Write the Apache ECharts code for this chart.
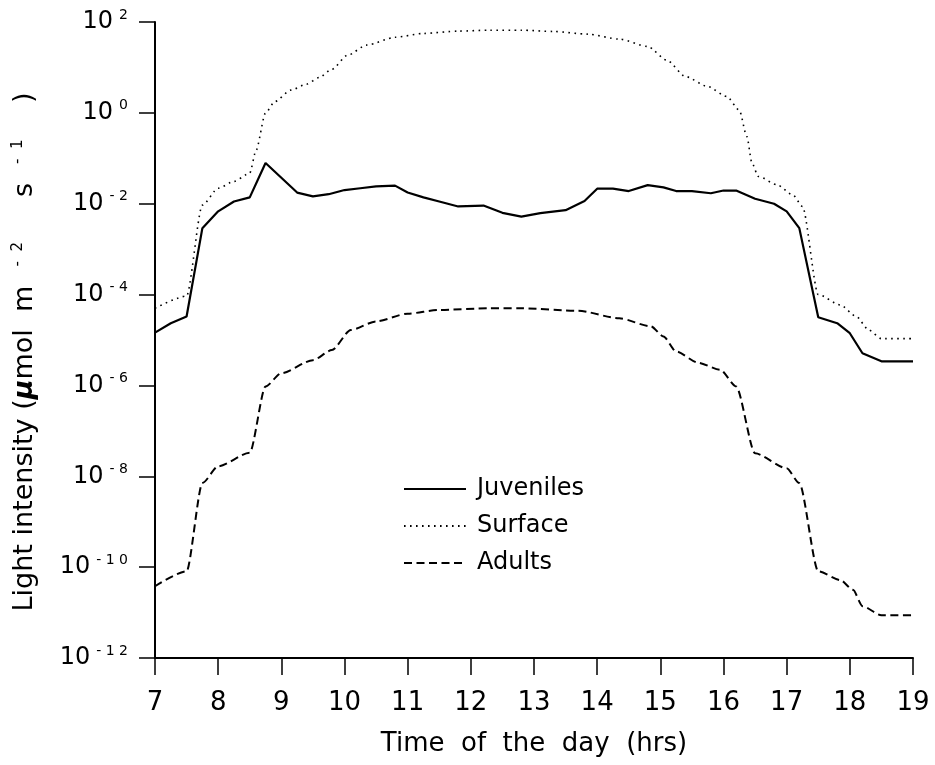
<!DOCTYPE html>
<html>
<head>
<meta charset="utf-8">
<script src="https://cdn.jsdelivr.net/npm/echarts@6/dist/echarts.min.js"></script>
<style>
  html, body { margin: 0; padding: 0; background: #fff; }
  #chart { width: 935px; height: 765px; }
</style>
</head>
<body>
<div id="chart"></div>
<script>
// Light intensity over the day at three positions (log scale)
const FONT = '"DejaVu Sans", "Liberation Sans", sans-serif';

const hourTicks = [7, 8, 9, 10, 11, 12, 13, 14, 15, 16, 17, 18, 19];
const seriesNames = ['Juveniles', 'Surface', 'Adults'];

const juvenilesHour = [7.0, 7.25, 7.5, 7.75, 8.0, 8.25, 8.5, 8.75, 9.25, 9.5, 9.75, 10.0, 10.25, 10.5, 10.8,
  11.0, 11.25, 11.5, 11.8, 12.2, 12.5, 12.8, 13.1, 13.5, 13.8, 14.0, 14.25, 14.5, 14.8,
  15.05, 15.25, 15.5, 15.8, 16.0, 16.2, 16.5, 16.8, 17.0, 17.2, 17.5, 17.8, 18.0, 18.2, 18.5, 19.0];
const juvenilesLight = [1.45e-5, 2.34e-5, 3.3e-5, 2.9e-3, 6.8e-3, 1.12e-2, 1.38e-2, 7.9e-2, 1.76e-2, 1.45e-2, 1.62e-2, 2.0e-2, 2.19e-2, 2.4e-2, 2.5e-2,
  1.76e-2, 1.38e-2, 1.12e-2, 8.7e-3, 9.1e-3, 6.3e-3, 5.2e-3, 6.2e-3, 7.2e-3, 1.15e-2, 2.14e-2, 2.14e-2, 1.9e-2, 2.57e-2,
  2.29e-2, 1.9e-2, 1.9e-2, 1.7e-2, 1.95e-2, 1.95e-2, 1.29e-2, 1.0e-2, 6.8e-3, 2.9e-3, 3.16e-5, 2.34e-5, 1.41e-5, 5.1e-6, 3.4e-6, 3.4e-6];

const surfaceHour = [7.0, 7.5, 7.75, 8.0, 8.25, 8.5, 8.6, 8.75, 8.9, 9.15, 9.4, 9.6, 9.8, 10.05, 10.35, 10.8,
  11.25, 11.8, 12.3, 12.8, 13.3, 13.85, 14.35, 14.8, 15.1, 15.4, 15.75, 16.05, 16.25, 16.37, 16.45, 16.55,
  16.85, 17.1, 17.25, 17.5, 17.85, 18.1, 18.3, 18.5, 19.0];
const surfaceLight = [5.0e-5, 9.3e-5, 9.3e-3, 2.19e-2, 3.1e-2, 4.7e-2, 0.15, 1.0, 1.78, 3.16, 4.3, 6.0, 9.1, 18.6, 31, 46,
  56, 63, 66, 66, 62, 54, 42, 29, 14.5, 6.3, 3.8, 2.3, 1.15, 0.30, 0.079, 0.040,
  0.026, 0.0155, 8.7e-3, 1.0e-4, 5.9e-5, 3.3e-5, 1.66e-5, 1.07e-5, 1.07e-5];

const adultsHour = [7.0, 7.5, 7.75, 8.0, 8.5, 8.75, 9.0, 9.5, 9.8, 10.1, 10.5, 11.0, 11.5, 12.3, 12.8, 13.7,
  14.35, 14.85, 15.05, 15.25, 15.6, 15.95, 16.2, 16.5, 17.0, 17.2, 17.5, 17.85, 18.05, 18.2, 18.5, 19.0];
const adultsLight = [3.8e-11, 8.1e-11, 7.1e-9, 1.66e-8, 3.3e-8, 9.5e-7, 1.86e-6, 3.6e-6, 6.0e-6, 1.66e-5, 2.57e-5, 3.8e-5, 4.6e-5, 5.0e-5, 5.0e-5, 4.4e-5,
  3.0e-5, 2.0e-5, 1.2e-5, 5.6e-6, 3.16e-6, 2.2e-6, 9.5e-7, 3.2e-8, 1.5e-8, 7.1e-9, 8.1e-11, 5.2e-11, 3.16e-11, 1.38e-11, 8.7e-12, 8.7e-12];

const pairs = (xs, ys) => xs.map((x, i) => [x, ys[i]]);

// "10" with a raised exponent, e.g. 10^-4
function powerLabel(v) {
  const e = Math.round(Math.log10(v));
  const exp = e < 0 ? '- ' + String(-e).split('').join(' ') : String(e);
  return '{b|10}{s|' + exp + '}';
}

const chart = echarts.init(document.getElementById('chart'), null, { renderer: 'canvas' });

chart.setOption({
  animation: false,
  backgroundColor: '#ffffff',
  grid: { left: 155, right: 22, top: 22, bottom: 107, containLabel: false },
  legend: {
    orient: 'vertical',
    left: 398,
    top: 472,
    itemWidth: 62,
    itemHeight: 20,
    itemGap: 13,
    data: seriesNames,
    itemStyle: { opacity: 0 },
    textStyle: { fontFamily: FONT, fontSize: 24, color: '#000', padding: [0, 0, 0, 6] }
  },
  xAxis: {
    type: 'value',
    min: hourTicks[0],
    max: hourTicks[hourTicks.length - 1],
    interval: 1,
    name: 'Time  of  the  day  (hrs)',
    nameLocation: 'middle',
    nameGap: 73,
    nameTextStyle: { fontFamily: FONT, fontSize: 26, color: '#000' },
    axisLine: { lineStyle: { color: '#000', width: 2 } },
    axisTick: { length: 17, lineStyle: { color: '#000', width: 1.5 } },
    axisLabel: { fontFamily: FONT, fontSize: 26, color: '#000', margin: 32 },
    splitLine: { show: false }
  },
  yAxis: {
    type: 'log',
    logBase: 10,
    min: 1e-12,
    max: 1e2,
    interval: 2,
    name: 'Light intensity ({mu|μ}mol  m  {sup|-  2}     s  {sup|-  1}    )',
    nameLocation: 'middle',
    nameGap: 117,
    nameTextStyle: {
      fontFamily: FONT, fontSize: 27, color: '#000', padding: [0, 24, 0, 0],
      rich: {
        mu: { fontFamily: FONT, fontSize: 27, fontStyle: 'italic', fontWeight: 'bold', color: '#000' },
        sup: { fontFamily: FONT, fontSize: 15, verticalAlign: 'top', color: '#000', padding: [0, 2, 0, 2] }
      }
    },
    axisLine: { show: true, lineStyle: { color: '#000', width: 2 } },
    axisTick: { show: true, length: 16, lineStyle: { color: '#000', width: 1.5 } },
    minorTick: { show: false },
    axisLabel: {
      margin: 27,
      formatter: powerLabel,
      rich: {
        b: { fontFamily: FONT, fontSize: 24, color: '#000', lineHeight: 28 },
        s: { fontFamily: FONT, fontSize: 14, color: '#000', verticalAlign: 'top', lineHeight: 14, padding: [0, 0, 0, 6] }
      }
    },
    splitLine: { show: false }
  },
  series: [
    {
      name: seriesNames[0],
      type: 'line',
      symbol: 'none',
      data: pairs(juvenilesHour, juvenilesLight),
      itemStyle: { color: '#000' },
      lineStyle: { color: '#000', width: 2.2, type: 'solid' }
    },
    {
      name: seriesNames[1],
      type: 'line',
      symbol: 'none',
      smooth: 0.25,
      smoothMonotone: 'x',
      data: pairs(surfaceHour, surfaceLight),
      itemStyle: { color: '#000' },
      lineStyle: { color: '#000', width: 1.6, type: [1.6, 4.4] }
    },
    {
      name: seriesNames[2],
      type: 'line',
      symbol: 'none',
      smooth: 0.25,
      smoothMonotone: 'x',
      data: pairs(adultsHour, adultsLight),
      itemStyle: { color: '#000' },
      lineStyle: { color: '#000', width: 2, type: [8, 4.5] }
    }
  ]
});
</script>
</body>
</html>
